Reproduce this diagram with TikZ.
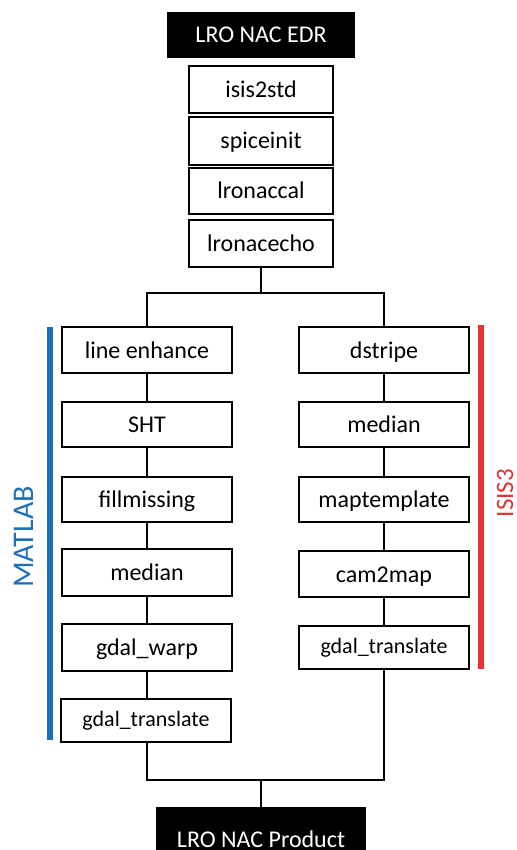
\documentclass[tikz,border=0pt]{standalone}
\usepackage{fontspec}
\setmainfont{Carlito}
\definecolor{matblue}{HTML}{1D6FB8}
\definecolor{isisred}{HTML}{E33232}
\tikzset{
  stepbox/.style={draw=black, line width=1.3pt, fill=white, rectangle, inner sep=0pt,
    minimum width=170pt, minimum height=46pt, text height=18pt, text depth=2pt,
    font=\fontsize{24}{28}\selectfont},
  smallbox/.style={stepbox, minimum height=43pt, text height=14pt, text depth=3pt,
    font=\fontsize{22}{26}\selectfont},
  topbox/.style={stepbox, minimum width=144pt},
  darkbox/.style={rectangle, fill=black, text=white, inner sep=0pt,
    text height=18pt, text depth=2pt, font=\fontsize{24}{28}\selectfont},
  link/.style={draw=black, line width=1.2pt},
  bar/.style={line width=6pt},
}
\begin{document}
\begin{tikzpicture}[x=1pt, y=-1pt]
\useasboundingbox (0,0) rectangle (516,850);

% top chain
\node[darkbox, minimum width=188pt, minimum height=46pt] (edr) at (261,35) {LRO NAC EDR};
\node[topbox, minimum height=47pt] (isis) at (261,89.5) {isis2std};
\node[topbox, minimum height=48pt] (spice) at (261,141) {spiceinit};
\node[topbox, minimum height=46pt] (cal) at (261,191) {lronaccal};
\node[topbox, minimum height=47pt] (echo) at (261,243.5) {lronacecho};

% left column (MATLAB)
\node[stepbox] (le) at (147,350) {line enhance};
\node[stepbox, minimum height=45pt] (sht) at (147,424.5) {SHT};
\node[stepbox, minimum height=45pt] (fill) at (147,499.5) {fillmissing};
\node[stepbox, minimum height=47pt] (medL) at (147,572.5) {median};
\node[stepbox, minimum height=47pt] (warp) at (147,647.5) {gdal\_warp};
\node[smallbox] (gtL) at (146,720.5) {gdal\_translate};

% right column (ISIS3)
\node[stepbox] (ds) at (384,350) {dstripe};
\node[stepbox, minimum height=45pt] (medR) at (384,424.5) {median};
\node[stepbox, minimum height=45pt] (mapt) at (384,499.5) {maptemplate};
\node[stepbox, minimum height=46pt] (cam) at (384,574) {cam2map};
\node[smallbox] (gtR) at (384,647.5) {gdal\_translate};

% product
\node[darkbox, minimum width=210pt, minimum height=64pt, text height=16pt, text depth=0pt] (prod) at (261,839) {LRO NAC Product};

% split / merge points
\coordinate (split) at (261,293);
\coordinate (merge) at (261,780);

% connectors
\path[link] (echo.south) -- (split);
\path[link] (le.north) |- (split) -| (ds.north);
\path[link] (le) -- (sht);
\path[link] (sht) -- (fill);
\path[link] (fill) -- (medL);
\path[link] (medL) -- (warp);
\path[link] (warp.south) -- (warp.south |- gtL.north);
\path[link] (ds) -- (medR);
\path[link] (medR) -- (mapt);
\path[link] (mapt) -- (cam);
\path[link] (cam) -- (gtR);
\path[link] (gtL.south -| warp.south) |- (merge) -| (gtR.south);
\path[link] (merge) -- (prod.north);

% side bars and labels
\draw[bar, matblue] (50,327) -- (50,740);
\draw[bar, isisred] (481,325) -- (481,669);
\node[text=matblue, rotate=90, inner sep=0pt, text height=20pt, text depth=0pt, font=\fontsize{30}{34}\selectfont] (matlab) at (23,537) {MATLAB};
\node[text=isisred, rotate=90, inner sep=0pt, text height=16pt, text depth=0pt, font=\fontsize{25}{29}\selectfont] (isis3) at (505,493) {ISIS3};
\end{tikzpicture}
\end{document}
